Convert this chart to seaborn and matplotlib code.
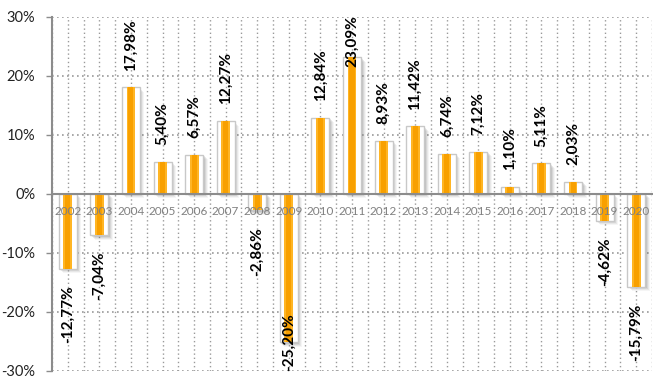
import matplotlib
matplotlib.use("Agg")
import matplotlib.pyplot as plt
import matplotlib.transforms as mtransforms
import seaborn as sns
import numpy as np
import pandas as pd

# ---- data ----
years = [str(y) for y in range(2002, 2021)]
values = [-12.77, -7.04, 17.98, 5.40, 6.57, 12.27, -2.86, -25.20, 12.84, 23.09,
          8.93, 11.42, 6.74, 7.12, 1.10, 5.11, 2.03, -4.62, -15.79]
value_labels = [f"{v:.2f}%".replace(".", ",") for v in values]
y_ticks = [-30, -20, -10, 0, 10, 20, 30]
y_tick_labels = [f"{t}%" for t in y_ticks]

sns.set_theme(style="white")
plt.rcParams["font.family"] = ["Lato", "DejaVu Sans"]

df = pd.DataFrame({"year": years, "value": values})

fig = plt.figure(figsize=(6.53, 3.76), dpi=100)
fig.patch.set_facecolor("white")
ax = fig.add_axes([52 / 653, 1 - 370.7 / 376, 600 / 653, (370.7 - 16.5) / 376])

# soft shadows (lower right)
for dx, alpha in [(0.045, 0.06), (0.035, 0.09), (0.025, 0.12), (0.015, 0.15)]:
    sns.barplot(data=df, x="year", y="value", order=years, width=0.57,
                color="#606060", saturation=1, errorbar=None, ax=ax,
                zorder=2, alpha=alpha, linewidth=0)
    off = mtransforms.ScaledTranslation(dx, -dx, fig.dpi_scale_trans)
    for p in ax.containers[-1]:
        p.set_transform(ax.transData + off)

# white frames
sns.barplot(data=df, x="year", y="value", order=years, width=0.57,
            color="white", saturation=1, errorbar=None, ax=ax, zorder=3,
            edgecolor="#C8C8C8", linewidth=1)
# orange inner bars
sns.barplot(data=df, x="year", y="value", order=years, width=0.28,
            color="#FFB524", saturation=1, errorbar=None, ax=ax, zorder=4,
            linewidth=0)
sns.barplot(data=df, x="year", y="value", order=years, width=0.16,
            color="#F8A000", saturation=1, errorbar=None, ax=ax, zorder=4.5,
            linewidth=0)

ax.set_xlim(-0.5, len(years) - 0.5)
ax.set_ylim(-30, 30)
ax.set_xlabel("")
ax.set_ylabel("")

# grid
ax.set_xticks(range(len(years)))
ax.set_xticks(np.arange(-0.5, len(years), 1), minor=True)
ax.set_xticklabels([])
ax.set_yticks(y_ticks)
ax.set_yticklabels(y_tick_labels)
ax.set_axisbelow(True)
ax.grid(True, which="both", axis="x", linestyle=(0, (1, 2)), color="#9A9A9A", lw=1)
ax.grid(True, which="major", axis="y", linestyle=(0, (1, 2)), color="#9A9A9A", lw=1.2)

for s in ["top", "right"]:
    ax.spines[s].set_visible(False)
ax.spines["left"].set_color("#8C8C8C")
ax.spines["left"].set_linewidth(1.5)
ax.spines["bottom"].set_position(("data", 0))
ax.spines["bottom"].set_color("#8C8C8C")
ax.spines["bottom"].set_linewidth(1.5)
ax.spines["bottom"].set_zorder(5)

ax.tick_params(axis="x", which="both", length=0)
ax.tick_params(axis="y", length=4, width=1, color="#8C8C8C", direction="out",
               pad=8, labelsize=10.5, labelcolor="#222222", left=True)

# year labels
for i, yr in enumerate(years):
    ax.annotate(yr, xy=(i, 0), xytext=(0, -9), textcoords="offset points",
                ha="center", va="top", fontsize=8.5, color="#808080", zorder=7)

# value labels
anns = []
for i, (v, lab) in enumerate(zip(values, value_labels)):
    off = 12 if v >= 0 else -12
    a = ax.annotate(lab, xy=(i, v), xytext=(0, off), textcoords="offset points",
                    ha="center", va="bottom" if v >= 0 else "top", rotation=90,
                    fontsize=11, fontweight="bold", color="black", zorder=8)
    anns.append(a)

fig.canvas.draw()
renderer = fig.canvas.get_renderer()
axbb = ax.get_window_extent(renderer)
lo, hi = ax.get_ylim()
for i, (a, v) in enumerate(zip(anns, values)):
    bb = a.get_window_extent(renderer)
    if v >= 0 and bb.y1 > axbb.y1 + 2:
        a.xy = (i, hi)
        a.xyann = (0, 1)
        a.set_va("top")
    elif v < 0 and bb.y0 < axbb.y0 - 2:
        a.xy = (i, lo)
        a.xyann = (0, 0)
        a.set_va("bottom")

fig.savefig("out.png", dpi=100, facecolor="white")
